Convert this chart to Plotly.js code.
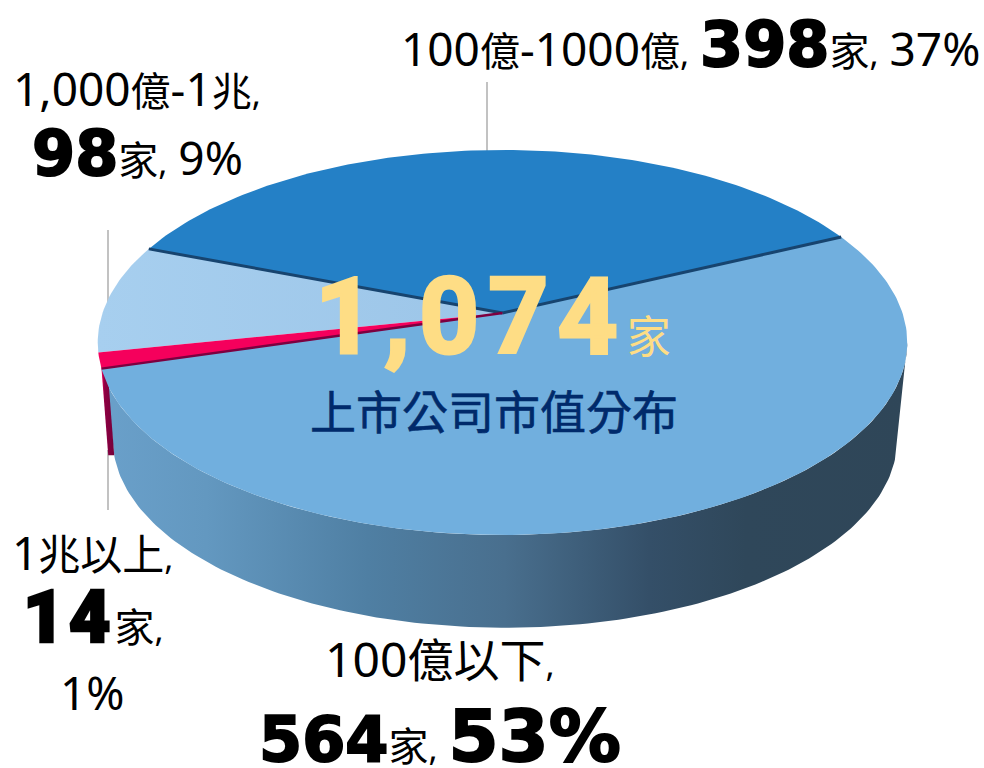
<!DOCTYPE html>
<html>
<head>
<meta charset="utf-8">
<script src="https://cdn.plot.ly/plotly-3.0.1.min.js"></script>
<style>html,body{margin:0;padding:0;background:#fff}#c{width:984px;height:768px}</style>
</head>
<body>
<div id="c"></div>
<script>
// Data, in the drawing order round the pie (counter-clockwise from the right-hand cut)
const categories = ['100億-1000億', '1,000億-1兆', '1兆以上', '100億以下'];
const counts = [398, 98, 14, 564];
const percents = [37, 9, 1, 53];
const sliceColors = ['#2480c6', '#a3cbec', '#f5005c', '#71afde'];
const edgeColors = ['#17446f', null, '#7c0040', null];
const unit = '家';
const centerTitle = '上市公司市值分布';

// Perspective of the pie, in plot units
const startDeg = 25.5, k = 0.153;
const topFace = {x: 502.5, y: 313, ax: 400, ay: 188};
const baseFace = {x: 505, y: 411, ax: 387.5, ay: 183.6};
const total = counts.reduce((a, b) => a + b, 0);

function pt(face, deg) {
  const r = deg * Math.PI / 180, u = Math.cos(r), v = Math.sin(r), w = 1 + k * v;
  return [face.x + face.ax * u / w, face.y - face.ay * v / w];
}
function arc(face, a, b) {
  const out = [], n = Math.max(2, Math.ceil(Math.abs(b - a)));
  for (let i = 0; i <= n; i++) out.push(pt(face, a + (b - a) * i / n));
  return out;
}
function poly(points, color, extra) {
  return Object.assign({
    type: 'scatter', mode: 'lines', x: points.map(p => p[0]), y: points.map(p => p[1]),
    fill: 'toself', fillcolor: color, line: {width: 0, color: color}, hoverinfo: 'skip'
  }, extra || {});
}
function stroke(points, color, width) {
  return {type: 'scatter', mode: 'lines', x: points.map(p => p[0]), y: points.map(p => p[1]),
    line: {width: width, color: color}, hoverinfo: 'skip'};
}

// slice angles
const bounds = [startDeg];
counts.forEach((c, i) => bounds.push(bounds[i] + c / total * 360));

const traces = [];
// leader lines behind the pie
const leaderColor = '#aeaeae';
traces.push(stroke([[487, 82], [487, 160]], leaderColor, 1.5));
traces.push(stroke([[108, 230], [108, 310]], leaderColor, 1.5));
traces.push(stroke([[108, 450], [108, 510]], leaderColor, 1.5));

// side wall of the big slice
const silhouetteL = 188.8, silhouetteR = 351.2;
const wall = arc(topFace, bounds[3], silhouetteR).concat(arc(baseFace, silhouetteR, silhouetteL));
traces.push(poly(wall, '#4d7a9c', {
  fillgradient: {type: 'horizontal', colorscale: [
    [0, '#6aa0ca'], [0.13, '#6398c0'], [0.33, '#4f7fa3'], [0.5, '#496f8e'],
    [0.68, '#344f68'], [0.8, '#2f475a'], [1, '#2f4658']]}
}));
// side wall of the thin slice: a narrow band running down from its cut
const pinkWidth = 6;
const pinkTop = pt(topFace, bounds[3]), pinkBase = pt(baseFace, bounds[3] - 3);
const pinkWall = [pinkTop, [pinkTop[0] + pinkWidth, pinkTop[1]], pinkBase, [pinkBase[0] - pinkWidth, pinkBase[1]]];
traces.push(poly(pinkWall, '#8a0040', {
  fillgradient: {type: 'horizontal', colorscale: [[0, '#f0005e'], [0.25, '#8e0042'], [1, '#74003a']]}
}));

// top faces
const apex = [topFace.x, topFace.y];
[3, 0, 1, 2].forEach(i => {
  const pts = [apex].concat(arc(topFace, bounds[i], bounds[i + 1])).concat([apex]);
  const extra = i === 1 ? {fillgradient: {type: 'horizontal', colorscale: [[0, '#a7cfef'], [1, '#9cc5e8']]}} : {};
  traces.push(poly(pts, sliceColors[i], extra));
});
// dark cut lines
traces.push(stroke([pt(topFace, bounds[0]), apex], edgeColors[0], 3));
traces.push(stroke([pt(topFace, bounds[1]), apex], edgeColors[0], 3));
traces.push(stroke([pt(topFace, bounds[3]), apex], edgeColors[2], 2.4));

// text helpers
const cjk = "'Noto Sans CJK TC'", lat = "'Noto Sans'", heavy = "'DejaVu Sans'";
const T = (s, size) => `<span style="font-family:${lat};font-size:${size || 46}px">${s}</span>`;
const Z = (s, size) => `<span style="font-family:${cjk};font-size:${size || 40}px">${s}</span>`;
const B = (s, size) => `<span style="font-family:${heavy};font-weight:bold;font-size:${size || 62}px;stroke:#000;stroke-width:2px">${s}</span>`;
const K = (s, size) => `<span style="font-family:'Roboto';font-weight:900;font-size:${size}px;letter-spacing:4px;stroke:#000;stroke-width:2.5px">${s}</span>`;
const C = T(',', 34);
const sp = T(' ', 42);
function note(text, x, y, color) {
  return {text: text, x: x, y: y, xref: 'x', yref: 'y', xanchor: 'center', yanchor: 'middle',
    showarrow: false, font: {family: 'Noto Sans', size: 42, color: color || '#000'}, align: 'center'};
}
const [c0, c1, c2, c3] = counts, [p0, p1, p2, p3] = percents;
const anns = [
  note(T('100') + Z('億') + T('-1000') + Z('億') + C + sp + B(c0) + Z(unit) + C + sp + T(p0 + '%'), 690, 44),
  note(T('1,000') + Z('億') + T('-1') + Z('兆') + C, 137, 88),
  note(B(c1) + Z(unit) + C + sp + T(p1 + '%'), 137, 153),
  note(T('1') + Z('兆以上', 42) + C, 92, 552),
  note(K(c2, 72) + Z(unit) + C, 93, 617),
  note(T(p2 + '%'), 92, 692),
  note(T('100', 48) + Z('億以下', 46) + C, 440, 657),
  note(B(c3) + Z(unit) + C + sp + B(p3 + '%', 72), 440, 736),
  note(`<span style="font-family:'Roboto';font-weight:bold;font-size:105px;letter-spacing:9px;stroke:#fedd85;stroke-width:3px">${total.toLocaleString('en-US')}</span>` + Z(unit, 44), 493, 317, '#fedd85'),
  note(`<span style="font-family:${cjk};font-size:46px;stroke:#002a6b;stroke-width:0.6px">${centerTitle}</span>`, 494, 409, '#002a6b')
];

Plotly.newPlot('c', traces, {
  width: 984, height: 768, margin: {l: 0, r: 0, t: 0, b: 0}, showlegend: false,
  paper_bgcolor: '#fff', plot_bgcolor: '#fff',
  xaxis: {range: [0, 984], visible: false, fixedrange: true},
  yaxis: {range: [768, 0], visible: false, fixedrange: true},
  annotations: anns
}, {staticPlot: true, displayModeBar: false});
</script>
</body>
</html>
